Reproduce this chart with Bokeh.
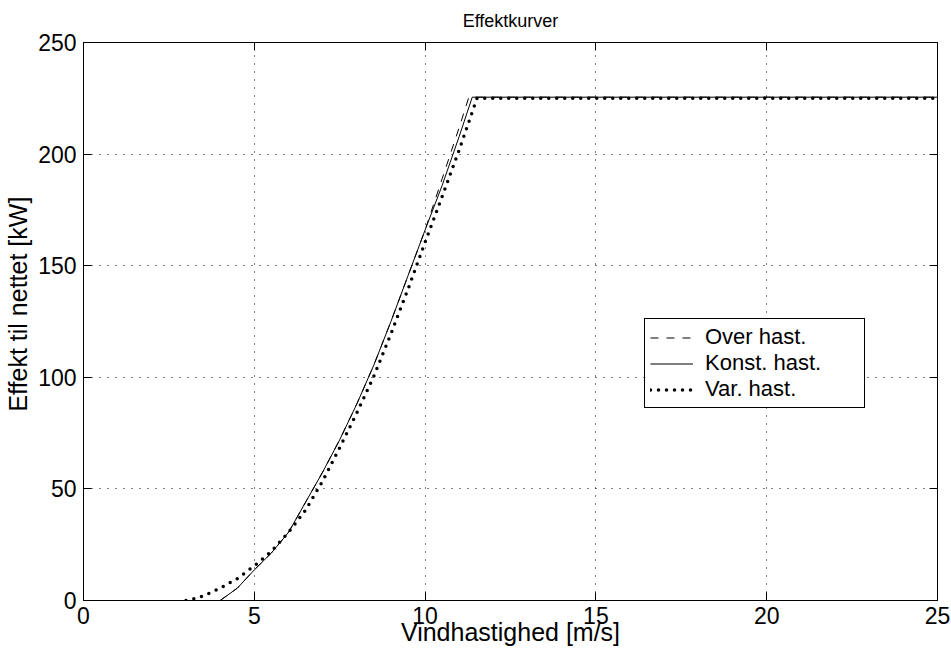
from bokeh.plotting import figure
from bokeh.models import FixedTicker, Range1d, Legend, LegendItem, LinearAxis, CustomLabelingPolicy
from bokeh.embed import file_html
from bokeh.resources import INLINE

# ---- data ----
x_ticks = [0, 5, 10, 15, 20, 25]
y_ticks = [0, 50, 100, 150, 200, 250]

wind_over = [4.0, 4.5, 5.0, 5.5, 6.0, 6.5, 7.0, 7.5, 8.0, 8.5, 9.0, 9.5, 10.0, 10.5, 11.0, 11.28, 25.0]
power_over = [0, 5.5, 13.7, 21.3, 30.5, 44, 57.5, 72, 88, 105.5, 125, 145.5, 166, 189, 212, 225.5, 225.5]

wind_konst = [4.0, 4.5, 5.0, 5.5, 6.0, 6.5, 7.0, 7.5, 8.0, 8.5, 9.0, 9.5, 10.0, 10.5, 11.0, 11.38, 25.0]
power_konst = [0, 5.5, 13.7, 21.3, 30.5, 44, 57.5, 72, 88, 105.5, 125, 145.5, 166, 186, 208, 225.5, 225.5]

wind_var = [3.0, 3.25, 3.5, 4.0, 4.5, 5.0, 5.5, 6.0, 6.5, 7.0, 7.5, 8.0, 8.5, 9.0, 9.5, 10.0, 10.5, 11.0, 11.52, 25.0]
power_var = [0, 0.8, 2.0, 5.5, 9.8, 15.5, 22, 30.5, 40.5, 53.5, 68.5, 84, 100.5, 119.5, 139.5, 160.5, 181, 202, 225, 225]

labels = ["Over hast.", "Konst. hast.", "Var. hast."]

FONT = "Liberation Sans"

p = figure(width=951, height=653, output_backend="svg", toolbar_location=None,
           x_range=Range1d(0, 25), y_range=Range1d(0, 250),
           title="Effektkurver",
           min_border_left=83, min_border_right=14, min_border_top=42, min_border_bottom=53)

p.background_fill_color = "white"
p.border_fill_color = "white"
p.outline_line_color = "black"
p.outline_line_width = 1
p.outline_line_alpha = 1

p.title.align = "center"
p.title.text_font = FONT
p.title.text_font_size = "18px"
p.title.text_font_style = "normal"
p.title.text_color = "black"

xt = FixedTicker(ticks=x_ticks, minor_ticks=[])
yt = FixedTicker(ticks=y_ticks, minor_ticks=[])

for ax, t in ((p.xaxis[0], xt), (p.yaxis[0], yt)):
    ax.ticker = t
    ax.major_tick_in = 8
    ax.major_tick_out = 0
    ax.minor_tick_line_color = None
    ax.axis_line_color = "black"
    ax.major_tick_line_color = "black"
    ax.major_label_text_font = FONT
    ax.major_label_text_font_size = "23px"
    ax.major_label_text_color = "black"
    ax.axis_label_text_font = FONT
    ax.axis_label_text_font_size = "25px"
    ax.axis_label_text_font_style = "normal"
    ax.axis_label_text_color = "black"

p.xaxis[0].axis_label = "Vindhastighed [m/s]"
p.xaxis[0].major_label_standoff = 6
p.xaxis[0].axis_label_standoff = -9
p.yaxis[0].axis_label = "\u00a0\u00a0\u00a0\u00a0\u00a0Effekt til nettet [kW]"
p.yaxis[0].major_label_standoff = 7
p.yaxis[0].axis_label_standoff = 3

# box-style inward ticks on the top and right edges (no labels drawn)
for loc, t, fs in (("right", yt, "1px"), ("above", xt, "6px")):
    a = LinearAxis(ticker=t, major_tick_in=8, major_tick_out=0,
                   major_label_text_font_size=fs, axis_line_color=None,
                   minor_tick_line_color=None, major_tick_line_color="black",
                   major_label_standoff=0,
                   major_label_policy=CustomLabelingPolicy(code="return new Set()"))
    p.add_layout(a, loc)

for g, t in ((p.xgrid[0], xt), (p.ygrid[0], yt)):
    g.ticker = t
    g.grid_line_color = "black"
    g.grid_line_dash = "1 7"
    g.grid_line_width = 1
    g.grid_line_alpha = 1

r_over = p.line(wind_over, power_over, line_color="black", line_width=1, line_dash="8 8")
r_konst = p.line(wind_konst, power_konst, line_color="black", line_width=1)
r_var = p.line(wind_var, power_var, line_color="black", line_width=3.5, line_dash="0 8",
               line_cap="round")

legend = Legend(items=[LegendItem(label=labels[0], renderers=[r_over]),
                       LegendItem(label=labels[1], renderers=[r_konst]),
                       LegendItem(label=labels[2], renderers=[r_var])],
                location=(561, 192))
legend.label_text_font = FONT
legend.label_text_font_size = "22px"
legend.label_text_color = "black"
legend.glyph_width = 43
legend.glyph_height = 21
legend.label_height = 21
legend.label_width = 154
legend.label_standoff = 12
legend.spacing = 0
legend.padding = 5
legend.margin = 0
legend.border_line_color = "black"
legend.border_line_width = 1
legend.border_line_alpha = 1
legend.background_fill_color = "white"
legend.background_fill_alpha = 1
p.add_layout(legend, "center")

open("out.html", "w").write(file_html(p, INLINE))
